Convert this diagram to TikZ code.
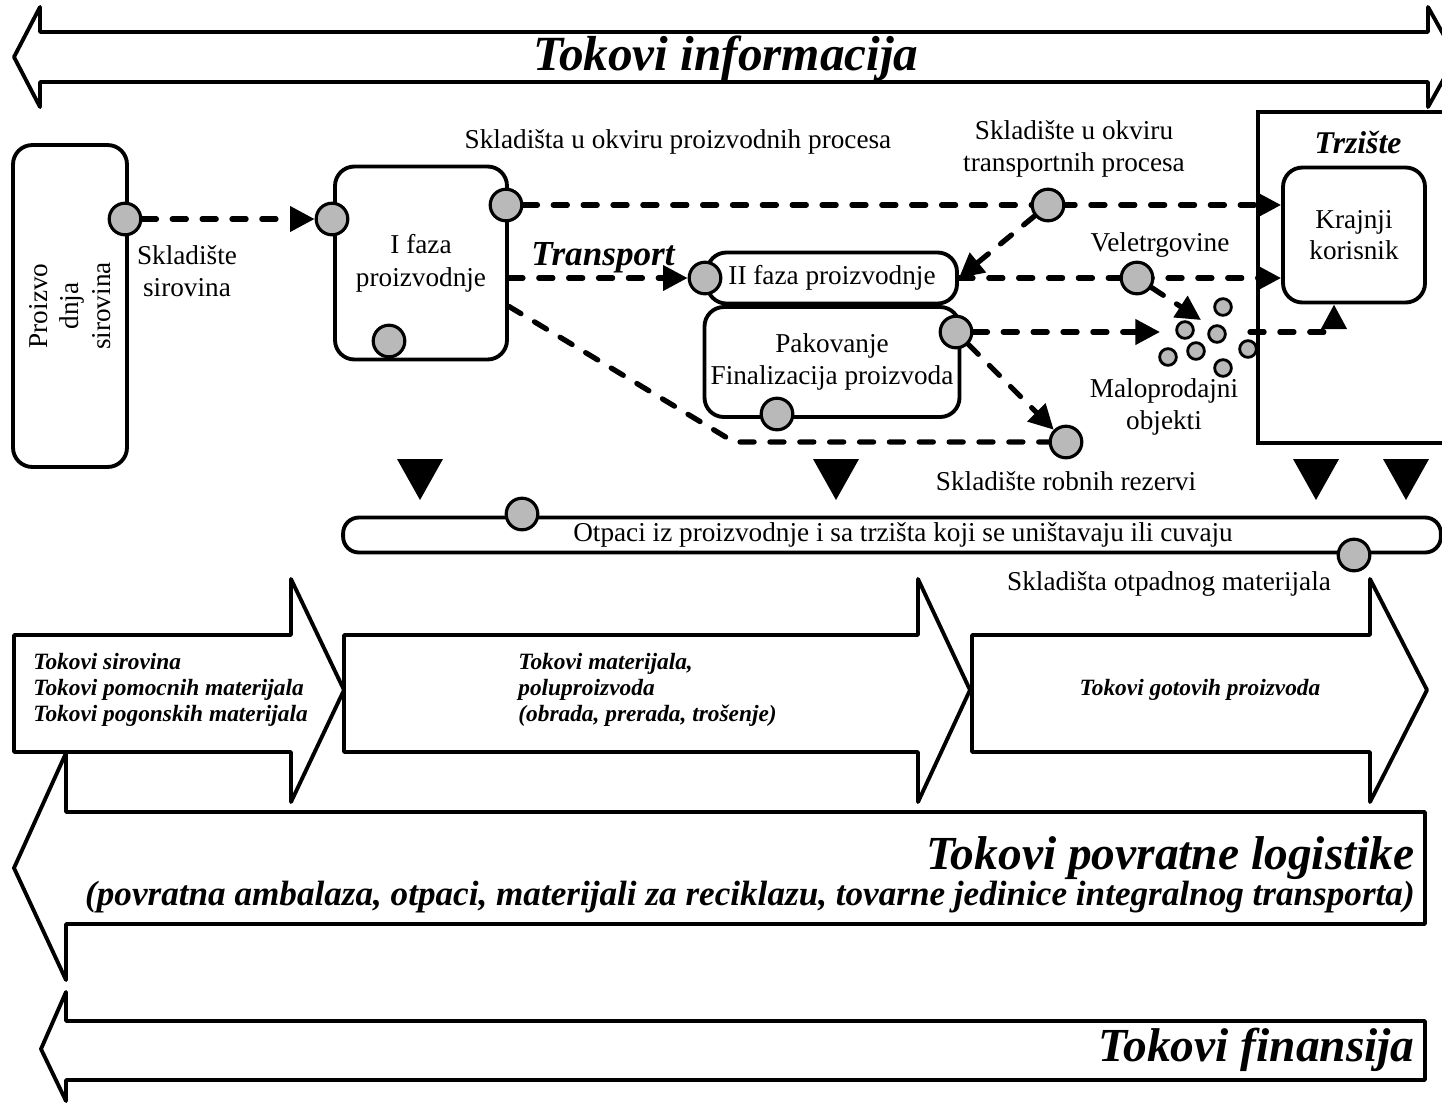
\documentclass[tikz,border=0pt]{standalone}
\usepackage{fontspec}
\setmainfont{Liberation Serif}
\usetikzlibrary{arrows.meta,positioning,calc,backgrounds}
\newcommand{\labfont}{\fontsize{15.5}{18}\selectfont}
\tikzset{
    procbox/.style={draw, line width=2.2pt, rounded corners=11pt, align=center, font=\labfont, inner sep=2pt},
    store/.style={circle, draw, line width=1.8pt, fill=gray!55, minimum size=18pt, inner sep=0pt},
    storeS/.style={store, minimum size=9.5pt, line width=1.6pt},
    flow/.style={line width=3pt, line cap=round, dash pattern=on 8pt off 9pt, -{Triangle[length=14pt,width=14pt]}},
    flowN/.style={line width=3pt, line cap=round, dash pattern=on 8pt off 9pt},
    txt/.style={font=\labfont, align=center, inner sep=0pt},
    bigarrow/.style={draw, line width=2.2pt, line join=round},
    headtxt/.style={font=\fontsize{27}{30}\selectfont\bfseries\itshape, inner sep=0pt},
    subtxt/.style={font=\fontsize{20}{22}\selectfont\bfseries\itshape, inner sep=0pt},
    flowtxt/.style={font=\fontsize{13.3}{14.7}\selectfont\bfseries\itshape, align=left, inner sep=0pt},
}

\begin{document}
\begin{tikzpicture}[x=0.02cm, y=-0.02cm]
    \useasboundingbox (0,0) rectangle (1442,1103);

    % tokovi informacija
    \draw[bigarrow] (14,57) -- (40,7) -- (40,32) -- (1428,32) -- (1428,7) -- (1456,57)
        -- (1428,107) -- (1428,82) -- (40,82) -- (40,107) -- cycle;
    \node[headtxt, font=\fontsize{28}{30}\selectfont\bfseries\itshape] (info) at (726,58) {Tokovi informacija};

    % procesi
    \node[procbox, rotate=90, minimum width=6.44cm, minimum height=2.28cm] (src) at (70,306) {Proizvo\\dnja\\sirovina};
    \node[procbox, minimum width=3.44cm, minimum height=3.86cm, font=\fontsize{15.5}{19}\selectfont] (ph1) at (421,263) {I faza\\proizvodnje};
    \node[procbox, minimum width=5cm, minimum height=1.02cm] (ph2) at (832,278) {II faza proizvodnje};
    \node[procbox, minimum width=5.1cm, minimum height=2.2cm] (pack) at (832,362) {Pakovanje\\Finalizacija proizvoda};
    \node[procbox, minimum width=2.84cm, minimum height=2.7cm] (user) at (1354,235) {Krajnji\\korisnik};
    \node[procbox, rounded corners=9pt, minimum width=21.96cm, minimum height=0.7cm] (waste) at (892,535)
        {\hspace{0.44cm}Otpaci iz proizvodnje i sa trzišta koji se uništavaju ili cuvaju};

    % trziste
    \draw[line width=2.2pt] (1446,112) -- (1258,112) -- (1258,443) -- (1446,443);
    \node[headtxt, font=\fontsize{18}{20}\selectfont\bfseries\itshape] (mktlbl) at (1358,142) {Trzište};
    \coordinate (mkt) at (1250,332);
    \coordinate (ux) at ($(user.south)+(-20,0)$);

    % skladista
    \node[store] (s0) at (125,219) {};
    \node[store] (s1) at (332,219) {};
    \node[store] (s2) at (506,205) {};
    \node[store] (s3) at (389,341) {};
    \node[store] (s4) at (705,278) {};
    \node[store] (s5) at (777,414) {};
    \node[store] (s6) at (956,332) {};
    \node[store] (s7) at (1048,205) {};
    \node[store] (s8) at (1137,278) {};
    \node[store] (s9) at (1066,442) {};
    \node[store] (s10) at (522,514) {};
    \node[store] (s11) at (1354,555) {};
    \foreach \x/\y [count=\i] in {1223/307, 1185/330, 1217/334, 1196/351, 1168/357, 1223/368, 1248/349}
        \node[storeS] (shop\i) at (\x,\y) {};
    \coordinate (retail) at (1201,320);
    \coordinate (bend) at (734,442);

    % tokovi robe
    \begin{scope}[on background layer]
        \draw[flow] (s0) -- (s1);
        \draw[flow] (s2) -- (s2 -| user.west);
        \draw[flow] (ph1.east |- s4) -- (s4);
        \draw[flowN] ($(ph1.south east)+(0,-55)$) -- (bend) -- (s9);
        \draw[flow] (s7) -- (ph2.east);
        \draw[flow] (ph2.east) -- (ph2.east -| user.west);
        \draw[flow] (s8) -- (retail);
        \draw[flow] (s6) -- (1160,332);
        \draw[flow] (s6) -- (s9);
        \draw[flow] (mkt) -- (mkt -| ux) -- (ux);
    \end{scope}

    % natpisi
    \node[txt] (lraw) at (187,271) {Skladište\\sirovina};
    \node[txt] (lprod) at (678,142) {Skladišta u okviru proizvodnih procesa};
    \node[txt] (ltrans) at (1074,149) {Skladište u okviru\\transportnih procesa};
    \node[txt] (lwhole) at (1160,245) {Veletrgovine};
    \node[txt] (lretail) at (1164,407) {Maloprodajni\\objekti};
    \node[txt] (lres) at (1066,481) {Skladište robnih rezervi};
    \node[txt] (lwst) at (1169,584) {Skladišta otpadnog materijala};
    \node[headtxt, font=\fontsize{20}{22}\selectfont\bfseries\itshape] (ltransport) at (603,258) {Transport};

    % otpad
    \foreach \x in {420,836,1316,1406}
        \fill (\x-23,459) -- (\x+23,459) -- (\x,500) -- cycle;

    % tokovi materijala
    \draw[bigarrow] (14,635) -- (291,635) -- (291,579) -- (344,690) -- (291,802) -- (291,752) -- (14,752) -- cycle;
    \draw[bigarrow] (344,635) -- (918,635) -- (918,579) -- (970,690) -- (918,802) -- (918,752) -- (344,752) -- cycle;
    \draw[bigarrow] (972,635) -- (1370,635) -- (1370,579) -- (1427,690) -- (1370,802) -- (1370,752) -- (972,752) -- cycle;
    \node[flowtxt, anchor=west] (fraw) at (33,690) {Tokovi sirovina\\Tokovi pomocnih materijala\\Tokovi pogonskih materijala};
    \node[flowtxt, anchor=west] (fmat) at (518,690) {Tokovi materijala,\\poluproizvoda\\(obrada, prerada, trošenje)};
    \node[flowtxt] (fgood) at (1200,690) {Tokovi gotovih proizvoda};

    % povratna logistika
    \draw[bigarrow] (1425,812) -- (66,812) -- (66,753) -- (14,868) -- (66,980) -- (66,924) -- (1425,924) -- cycle;
    \node[headtxt, anchor=east] (lrev) at (1415,858) {Tokovi povratne logistike};
    \node[subtxt, anchor=east] (lrevsub) at (1415,897) {(povratna ambalaza, otpaci, materijali za reciklazu, tovarne jedinice integralnog transporta)};

    % finansije
    \draw[bigarrow] (1425,1021) -- (66,1021) -- (66,992) -- (41,1049) -- (66,1101) -- (66,1080) -- (1425,1080) -- cycle;
    \node[headtxt, anchor=east] (lfin) at (1415,1050) {Tokovi finansija};
\end{tikzpicture}
\end{document}
